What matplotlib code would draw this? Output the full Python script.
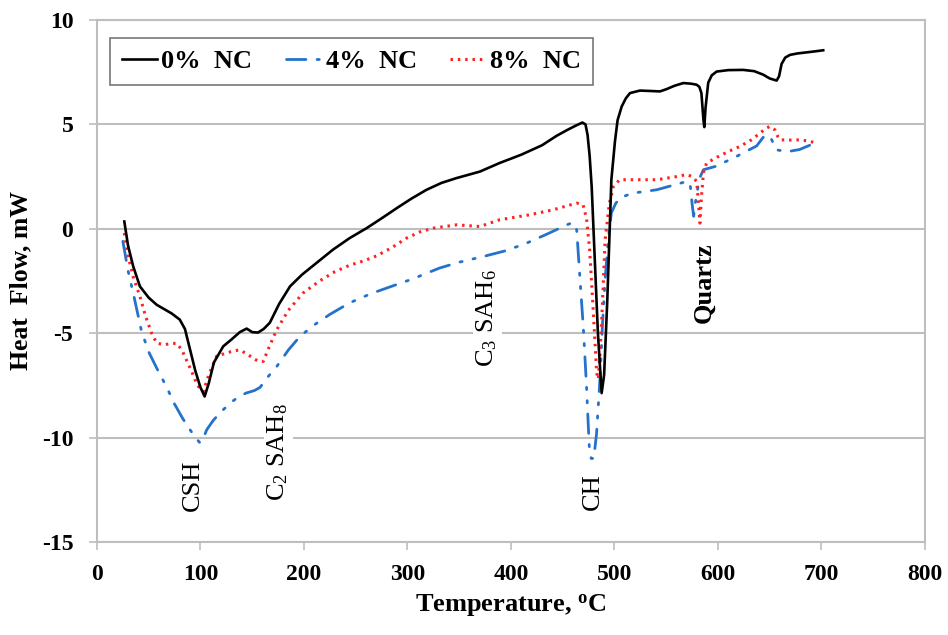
import matplotlib
matplotlib.use("Agg")
import matplotlib.pyplot as plt

plt.rcParams['font.family'] = ['Liberation Serif', 'DejaVu Serif']
plt.rcParams['mathtext.fontset'] = 'custom'
plt.rcParams['mathtext.rm'] = 'Liberation Serif'
plt.rcParams['mathtext.bf'] = 'Liberation Serif:bold'
plt.rcParams['mathtext.default'] = 'rm'
plt.rcParams['axes.unicode_minus'] = False

# ---- data ----
t_0nc = [26.4, 30, 35, 41.5, 50, 57.7, 65, 72, 80, 85, 90, 95, 100, 104, 108, 113, 122, 130,
         138, 144.6, 150, 155.6, 161, 167, 176, 186.5, 198, 212, 228, 244, 260.5, 275, 290, 304,
         318.5, 333, 347.5, 370, 389, 410, 430, 444, 455, 463, 469, 472, 474, 476, 478, 481, 484,
         487.6, 490, 493, 497, 500.5, 503, 507, 511, 515, 524.6, 535, 544, 550.4, 558, 566.5,
         574, 579.4, 582, 584, 586, 586.8, 588, 590.6, 594, 598.7, 610, 624.4, 635, 643.8, 650,
         656.7, 659, 661.5, 665, 669.6, 677, 685.7, 694, 701.7]
hf_0nc = [0.35, -0.8, -1.8, -2.76, -3.3, -3.64, -3.85, -4.05, -4.35, -4.8, -5.8, -6.8, -7.6, -8.03,
          -7.4, -6.4, -5.63, -5.3, -4.95, -4.78, -4.95, -4.97, -4.8, -4.5, -3.6, -2.76, -2.2, -1.64,
          -1.0, -0.45, 0.03, 0.5, 1.0, 1.45, 1.87, 2.2, 2.43, 2.74, 3.15, 3.55, 4.0, 4.45, 4.75,
          4.95, 5.09, 5.0, 4.5, 3.5, 2.0, -1.5, -5.0, -7.87, -7.0, -3.5, 2.35, 4.2, 5.2, 5.86, 6.25,
          6.5, 6.62, 6.6, 6.58, 6.69, 6.85, 6.98, 6.95, 6.9, 6.8, 6.5, 5.2, 4.87, 5.8, 7.0, 7.35,
          7.53, 7.6, 7.61, 7.55, 7.38, 7.2, 7.1, 7.3, 7.9, 8.2, 8.33, 8.4, 8.45, 8.5, 8.55]

t_4nc = [25, 30, 36, 43, 50, 58, 67, 75, 83, 90, 95, 99.5, 103, 106, 112, 119, 130, 138, 144.6,
         152, 157.5, 165, 173.6, 185, 196, 210, 225, 244, 265, 285, 305, 331, 350, 373, 395, 415,
         435, 454, 460, 463.5, 466.7, 470, 473, 475.6, 477.5, 480, 482.7, 486, 488.5, 491, 494,
         497, 501, 505, 516.6, 541, 570, 573, 575, 576.5, 578, 582, 586, 597, 615, 637.4, 644,
         647, 649, 652, 656, 668, 679, 692, 697]
hf_4nc = [-0.6, -2.0, -3.3, -4.9, -5.9, -6.7, -7.55, -8.4, -9.1, -9.63, -10.0, -10.25, -10.0,
          -9.63, -9.2, -8.8, -8.3, -8.0, -7.86, -7.75, -7.6, -7.1, -6.6, -5.8, -5.16, -4.6, -4.1,
          -3.55, -3.1, -2.75, -2.4, -1.88, -1.6, -1.33, -1.05, -0.69, -0.25, 0.19, 0.3, -0.05,
          -2.4, -4.8, -7.55, -10.4, -11.0, -11.0, -9.8, -7.2, -4.5, -2.4, -0.5, 0.76, 1.2, 1.47,
          1.7, 1.87, 2.27, 2.2, 1.2, 0.6, 1.2, 2.4, 2.83, 2.98, 3.39, 3.97, 4.4, 4.5, 4.45, 4.26,
          3.78, 3.7, 3.8, 4.07, 4.15]

t_8nc = [26.4, 30, 35, 41.5, 47, 52.8, 57.7, 65, 72, 77, 82, 86.6, 92, 97, 102.7, 108, 115.6,
         125, 132, 138, 145, 151, 156, 160.7, 166, 173.6, 185, 199, 215, 230, 244, 257, 270, 285,
         299, 312, 325, 347.5, 370, 389, 418, 440, 463.5, 469.6, 473, 476, 479, 482.8, 484.4, 486,
         488, 491, 495, 499, 505, 520, 541, 560, 570, 575, 579.5, 581, 582.6, 584, 586, 589, 600,
         610, 621, 632, 640.6, 646, 650, 655, 658, 660, 670, 679, 688, 695]
hf_8nc = [-0.2, -1.3, -2.3, -3.24, -4.2, -5.0, -5.48, -5.55, -5.5, -5.48, -5.8, -6.3, -6.9, -7.5,
          -7.8, -7.0, -6.1, -5.95, -5.85, -5.8, -6.0, -6.2, -6.35, -6.35, -5.7, -4.84, -3.9, -3.08,
          -2.5, -2.05, -1.75, -1.55, -1.3, -0.9, -0.45, -0.15, 0.03, 0.19, 0.11, 0.43, 0.67, 0.9,
          1.23, 1.15, 0.5, -1.0, -3.5, -6.9, -7.2, -6.0, -4.0, -0.53, 1.2, 2.03, 2.35, 2.35, 2.35,
          2.5, 2.6, 2.5, 2.27, 1.3, 0.27, 1.5, 2.7, 3.15, 3.45, 3.7, 3.94, 4.25, 4.58, 4.8, 4.9,
          4.74, 4.4, 4.26, 4.25, 4.26, 4.2, 4.1]

series_labels = ['0%  NC', '4%  NC', '8%  NC']

peak_labels = ['CSH', 'C$_2$ SAH$_8$', 'C$_3$ SAH$_6$', 'CH', 'Quartz']
peak_x = [93, 175, 377, 479, 586.5]
peak_y = [-12.3, -10.7, -4.3, -12.6, -2.6]

x_ticks = [0, 100, 200, 300, 400, 500, 600, 700, 800]
y_ticks = [-15, -10, -5, 0, 5, 10]

# ---- figure ----
fig = plt.figure(figsize=(9.48, 6.35), dpi=100)
ax = fig.add_axes([0.1023, 0.1465, 0.8734, 0.822])

grid_c = '#BEBEBE'
ax.plot(t_0nc, hf_0nc, color='black', lw=1.9, label=series_labels[0], zorder=4)
ax.plot(t_4nc, hf_4nc, color='#2472CC', lw=2.0,
        linestyle=(0, (7, 4, 0.8, 4, 0.8, 4)), dash_capstyle='round', label=series_labels[1], zorder=3)
ax.plot(t_8nc, hf_8nc, color='#FF2020', lw=2.2,
        linestyle=(0, (0.8, 1.6)), label=series_labels[2], zorder=3)

ax.set_xlim(0, 800)
ax.set_ylim(-15, 10)
ax.set_xticks(x_ticks)
ax.set_yticks(y_ticks)
ax.grid(axis='y', color=grid_c, lw=1.5, zorder=0)
ax.set_axisbelow(True)
for s in ax.spines.values():
    s.set_color(grid_c)
    s.set_linewidth(1.5)
ax.tick_params(axis='both', direction='out', length=6, width=1.2, color=grid_c,
               labelsize=17, labelcolor='black')
ax.tick_params(axis='y', pad=11)
ax.tick_params(axis='x', pad=10)
for lab in ax.get_xticklabels() + ax.get_yticklabels():
    lab.set_fontweight('bold')

ax.set_xlabel('Temperature, $^{\\mathbf{o}}$C', fontsize=19, fontweight='bold', labelpad=5)
ax.set_ylabel('Heat  Flow, mW', fontsize=18.5, fontweight='bold', labelpad=7)

for lab, x, y in zip(peak_labels, peak_x, peak_y):
    w = 'bold' if lab == 'Quartz' else 'normal'
    ax.text(x, y, lab, rotation=90, ha='center', va='center', fontsize=19, fontweight=w,
            zorder=5, bbox=dict(facecolor='white', edgecolor='none', pad=1.5))

leg = ax.legend(loc='upper left', bbox_to_anchor=(0.0157, 0.8506, 0.583, 0.115), mode='expand',
                ncol=3, prop={'weight': 'bold', 'size': 19}, frameon=True,
                fancybox=False, edgecolor='#555555', handlelength=1.35, handletextpad=0.15,
                borderpad=0.45, borderaxespad=0)
leg.get_frame().set_linewidth(1.2)

fig.savefig('out.png', dpi=100)
